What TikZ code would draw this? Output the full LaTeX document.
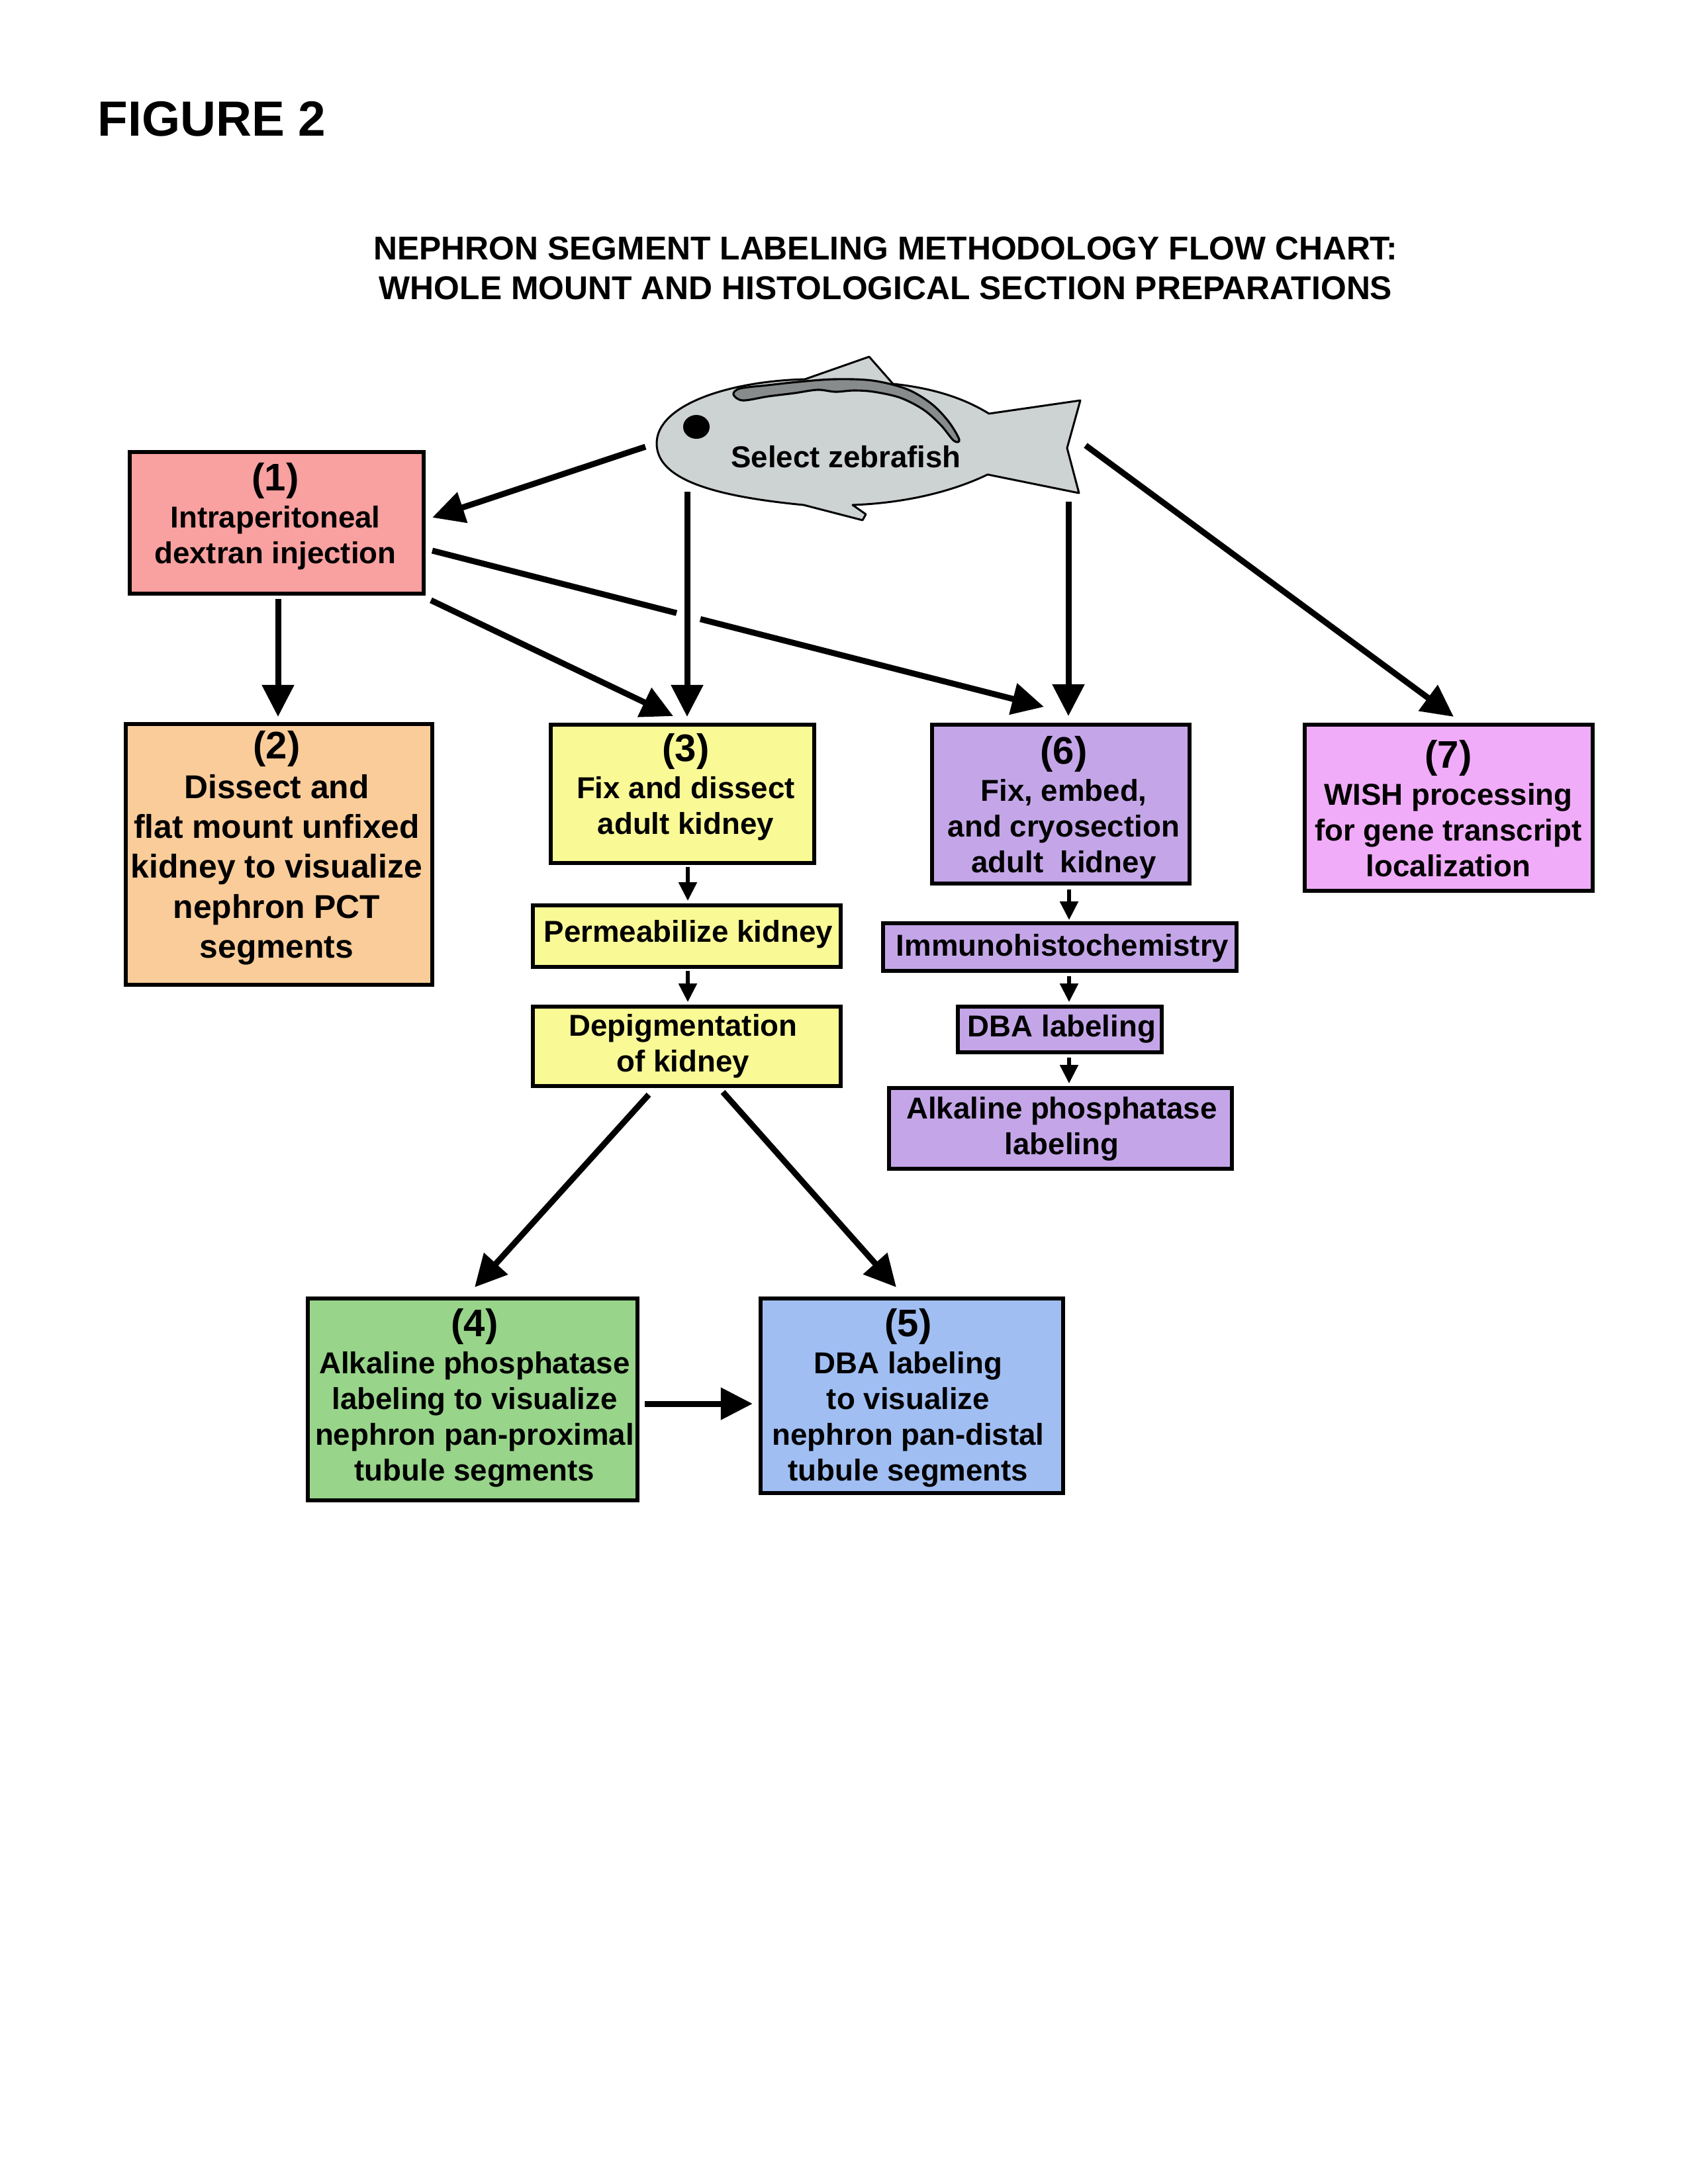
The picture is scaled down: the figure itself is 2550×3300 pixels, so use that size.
\documentclass[tikz,border=0pt]{standalone}
\usepackage{fontspec}
\setmainfont{Liberation Sans}
\usetikzlibrary{arrows.meta,fit,calc}
\definecolor{cone}{RGB}{249,160,160}
\definecolor{ctwo}{RGB}{250,204,154}
\definecolor{cyel}{RGB}{249,249,150}
\definecolor{cgreen}{RGB}{152,212,138}
\definecolor{cblue}{RGB}{160,190,242}
\definecolor{clav}{RGB}{196,166,232}
\definecolor{cpink}{RGB}{240,172,248}
\definecolor{cfish}{RGB}{205,210,210}
\definecolor{ckid}{RGB}{135,139,139}
\newcommand{\nbig}{\fontsize{14}{16}\selectfont}
\begin{document}
\begin{tikzpicture}[x=0.2409pt,y=-0.2409pt,
  box/.style={draw=black, line width=1.32pt, rectangle, inner sep=0pt},
  txt/.style={font=\fontsize{11}{13}\selectfont\bfseries, align=center, inner sep=0pt},
  txtbig/.style={font=\fontsize{12}{14.5}\selectfont\bfseries, align=center, inner sep=0pt},
  thickline/.style={line width=2.17pt},
  thickarrow/.style={line width=2.17pt, -{Triangle[length=11.6pt,width=11.3pt]}},
  thinarrow/.style={line width=1.25pt, -{Triangle[length=6.7pt,width=6.5pt]}}
]
\useasboundingbox[fill=white] (0,0) rectangle (2550,3300);

% headings
\node[font=\fontsize{18}{20}\selectfont\bfseries, anchor=west, inner sep=0pt] (fig) at (147,180) {FIGURE 2};
\node[txtbig] (title) at (1338,405) {NEPHRON SEGMENT LABELING METHODOLOGY FLOW CHART:\\WHOLE MOUNT AND HISTOLOGICAL SECTION PREPARATIONS};

% fish
\path[fill=cfish, draw=black, line width=0.72pt, line join=round]
  (992,670) .. controls (992,612) and (1100,576) .. (1216,573)
  -- (1313,539) -- (1349,580)
  .. controls (1415,587) and (1460,604) .. (1494,625)
  -- (1632,605) -- (1612,677) -- (1630,745) -- (1492,717)
  .. controls (1440,742) and (1370,760) .. (1288,763)
  -- (1308,777) -- (1303,786) -- (1214,763)
  .. controls (1080,750) and (992,725) .. (992,670) -- cycle;
\path[fill=ckid, draw=black, line width=0.75pt]
  plot[smooth cycle, tension=0.55] coordinates {
  (1108,596) (1118,587) (1160,582) (1206,577) (1260,573) (1318,575)
  (1370,588) (1407,610) (1433,637) (1449,664) (1441,666) (1421,642)
  (1395,619) (1360,601) (1320,592) (1290,590) (1262,592) (1235,589)
  (1200,594) (1160,599) (1122,605)};
\path[fill=black] (1052,645) ellipse [x radius=20, y radius=18];
\node[txt] (fish) at (1278,690) {Select zebrafish};

% boxes
\node[box, fill=cone, fit={(196,683) (640,897)}] (b1) {};
\node[box, fill=ctwo, fit={(190,1094) (653,1488)}] (b2) {};
\node[box, fill=cyel, fit={(832,1095) (1230,1304)}] (b3) {};
\node[box, fill=cyel, fit={(805,1368) (1270,1461)}] (perm) {};
\node[box, fill=cyel, fit={(805,1521) (1270,1641)}] (depig) {};
\node[box, fill=cgreen, fit={(465,1962) (963,2267)}] (b4) {};
\node[box, fill=cblue, fit={(1149,1962) (1606,2256)}] (b5) {};
\node[box, fill=clav, fit={(1408,1095) (1797,1335)}] (b6) {};
\node[box, fill=clav, fit={(1334,1395) (1868,1467)}] (imm) {};
\node[box, fill=clav, fit={(1447,1521) (1755,1590)}] (dba) {};
\node[box, fill=clav, fit={(1343,1644) (1861,1766)}] (ap) {};
\node[box, fill=cpink, fit={(1971,1095) (2406,1346)}] (b7) {};

% box texts
\node[txt] (t1) at (416,780) {{\nbig (1)}\\[0.5pt]Intraperitoneal\\dextran injection};
\node[txtbig] (t2) at (418,1281) {{\nbig (2)}\\Dissect and\\flat mount unfixed\\kidney to visualize\\nephron PCT\\segments};
\node[txt] (t3) at (1036,1189) {{\nbig (3)}\\[0.5pt]Fix and dissect\\adult kidney};
\node[txt] (tperm) at (1040,1412) {Permeabilize kidney};
\node[txt] (tdepig) at (1032,1581) {Depigmentation\\of kidney};
\node[txt] (t4) at (717,2112) {{\nbig (4)}\\[0.5pt]Alkaline phosphatase\\labeling to visualize\\nephron pan-proximal\\tubule segments};
\node[txt] (t5) at (1372,2112) {{\nbig (5)}\\[0.5pt]DBA labeling\\to visualize\\nephron pan-distal\\tubule segments};
\node[txt] (t6) at (1607,1220) {{\nbig (6)}\\[0.5pt]Fix, embed,\\and cryosection\\adult\ \ kidney};
\node[txt] (timm) at (1605,1433) {Immunohistochemistry};
\node[txt] (tdba) at (1604,1555) {DBA labeling};
\node[txt] (tap) at (1604,1706) {Alkaline phosphatase\\labeling};
\node[txt] (t7) at (2188,1222) {{\nbig (7)}\\[0.5pt]WISH processing\\for gene transcript\\localization};

% connector end points
\coordinate (a1s) at (975,675);   \coordinate (a1e) at (653,782);
\coordinate (a2s) at (1038,743);  \coordinate (a2e) at (1038,1083);
\coordinate (a3s) at (1614,758);  \coordinate (a3e) at (1614,1082);
\coordinate (a4s) at (1640,673);  \coordinate (a4e) at (2196,1083);
\coordinate (a5s) at (420,905);   \coordinate (a5e) at (420,1083);
\coordinate (a6s) at (651,907);   \coordinate (a6e) at (1017,1082);
\coordinate (a7s) at (653,832);   \coordinate (a7e) at (1577,1068);
\coordinate (a8s) at (980,1654);  \coordinate (a8e) at (717,1945);
\coordinate (a9s) at (1092,1650); \coordinate (a9e) at (1354,1945);
\coordinate (a10s) at (974,2121); \coordinate (a10e) at (1137,2121);
\coordinate (s1s) at (1039,1310); \coordinate (s1e) at (1039,1361);
\coordinate (s2s) at (1039,1467); \coordinate (s2e) at (1039,1514);
\coordinate (s3s) at (1615,1344); \coordinate (s3e) at (1615,1390);
\coordinate (s4s) at (1615,1475); \coordinate (s4e) at (1615,1514);
\coordinate (s5s) at (1615,1598); \coordinate (s5e) at (1615,1637);

% thick connectors
\draw[thickarrow] (a1s) -- (a1e);
\draw[thickarrow] (a2s) -- (a2e);
\draw[thickarrow] (a3s) -- (a3e);
\draw[thickarrow] (a4s) -- (a4e);
\draw[thickarrow] (a5s) -- (a5e);
\draw[thickarrow] (a6s) -- (a6e);
\draw[thickline] (a7s) -- ($(a7s)!0.3994!(a7e)$);
\draw[thickarrow] ($(a7s)!0.4383!(a7e)$) -- (a7e);
\draw[thickarrow] (a8s) -- (a8e);
\draw[thickarrow] (a9s) -- (a9e);
\draw[thickarrow] (a10s) -- (a10e);

% thin connectors
\draw[thinarrow] (s1s) -- (s1e);
\draw[thinarrow] (s2s) -- (s2e);
\draw[thinarrow] (s3s) -- (s3e);
\draw[thinarrow] (s4s) -- (s4e);
\draw[thinarrow] (s5s) -- (s5e);
\end{tikzpicture}
\end{document}
